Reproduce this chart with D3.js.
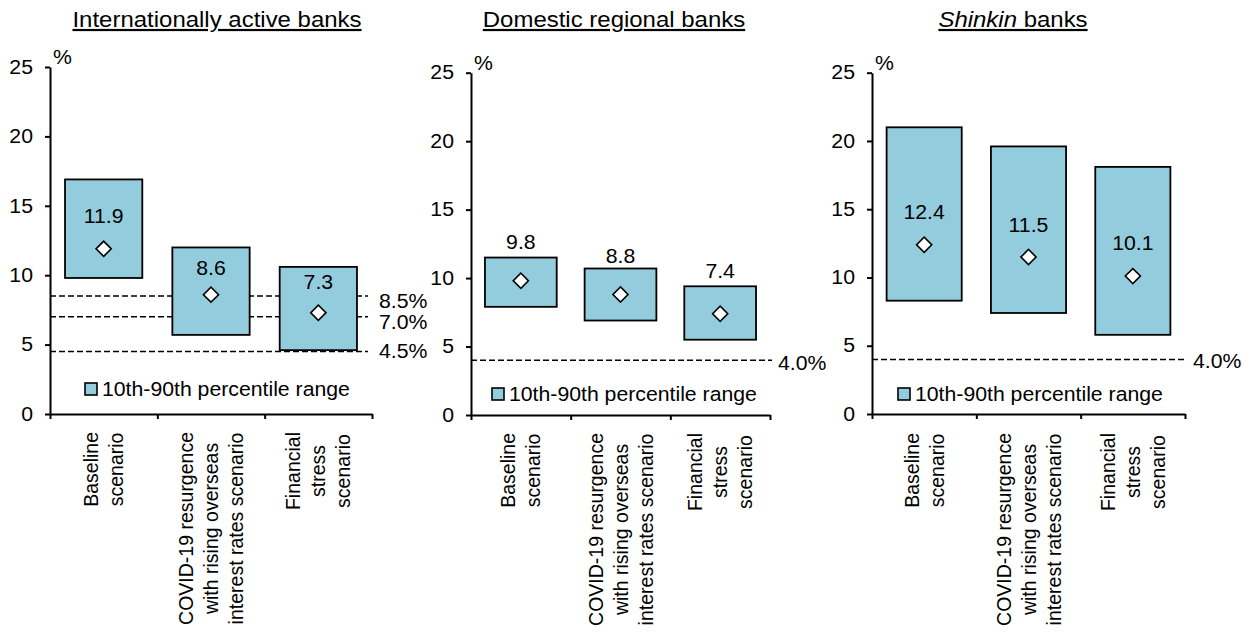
<!DOCTYPE html>
<html>
<head>
<meta charset="utf-8">
<script src="https://cdn.jsdelivr.net/npm/d3@7"></script>
<style>
  body { margin: 0; background: #fff; }
  text { font-family: "Liberation Sans", Arial, sans-serif; fill: #000; }
</style>
</head>
<body>
<div id="chart"></div>
<script>
// ---- data ----
const panelTitles = ["Internationally active banks", "Domestic regional banks", "Shinkin banks"];
const categories = [
    ["Baseline", "scenario"],
    ["COVID-19 resurgence", "with rising overseas", "interest rates scenario"],
    ["Financial", "stress", "scenario"]
];
const yTicks = [0, 5, 10, 15, 20, 25];
const legendLabel = "10th-90th percentile range";

const intlLow = [9.8, 5.7, 4.6];
const intlHigh = [16.9, 12.0, 10.6];
const intlMedian = [11.9, 8.6, 7.3];
const intlThresholds = [8.5, 7.0, 4.5];

const domLow = [7.9, 6.9, 5.5];
const domHigh = [11.5, 10.7, 9.4];
const domMedian = [9.8, 8.8, 7.4];
const domThresholds = [4.0];

const shinLow = [8.3, 7.4, 5.8];
const shinHigh = [21.0, 19.6, 18.1];
const shinMedian = [12.4, 11.5, 10.1];
const shinThresholds = [4.0];

// ---- layout (pixel positions per panel) ----
const W = 1253, H = 644;
const SX = 1.09;          // horizontal stretch of the original text
const FS = 19.5;          // base font size
const layout = [
    { x0: 50, x1: 372, yTop: 67, yBot: 414, titleX: 217, legX: 85, legY: 389,
      lblDy: [-33, -26, -31], thrDy: [5, 5, 0], thrEnd: 368, thrGap: 11, catTop: 432 },
    { x0: 471, x1: 770, yTop: 72.7, yBot: 415, titleX: 614, legX: 492, legY: 394,
      lblDy: [-39, -38, -43], thrDy: [3], thrEnd: 772, thrGap: 6, catTop: 433 },
    { x0: 872, x1: 1185, yTop: 72.7, yBot: 414, titleX: 1013, legX: 898, legY: 394,
      lblDy: [-33, -32, -33], thrDy: [2], thrEnd: 1187, thrGap: 6, catTop: 433 }
];

const panelData = [
    { low: intlLow, high: intlHigh, median: intlMedian, thresholds: intlThresholds },
    { low: domLow, high: domHigh, median: domMedian, thresholds: domThresholds },
    { low: shinLow, high: shinHigh, median: shinMedian, thresholds: shinThresholds }
];

const boxFill = "#93cddd";

const svg = d3.select("#chart").append("svg")
    .attr("width", W)
    .attr("height", H);

function stretch(x, y) {
    return "translate(" + x + "," + y + ") scale(" + SX + ",1)";
}

panelData.forEach((d, p) => {
    const L = layout[p];
    const g = svg.append("g");

    const y = d3.scaleLinear().domain([0, 25]).range([L.yBot, L.yTop]);
    const xb = d3.scaleBand().domain(d3.range(categories.length))
        .range([L.x0, L.x1]).paddingInner(0.28).paddingOuter(0.14);
    const xt = d3.scaleLinear().domain([0, categories.length]).range([L.x0, L.x1]);

    // TITLE
    const title = g.append("text")
        .attr("transform", stretch(L.titleX, 27))
        .attr("text-anchor", "middle")
        .style("font-size", "22px")
        .style("text-decoration", "underline");
    if (p === 2) {
        title.append("tspan").style("font-style", "italic").text("Shinkin");
        title.append("tspan").text(" banks");
    } else {
        title.text(panelTitles[p]);
    }

    // THRESHOLD LINES
    d.thresholds.forEach((t, i) => {
        g.append("line")
            .attr("x1", L.x0).attr("x2", L.thrEnd)
            .attr("y1", y(t)).attr("y2", y(t))
            .attr("stroke", "#000")
            .attr("stroke-width", 1.5)
            .attr("stroke-dasharray", "6,3");
        g.append("text")
            .attr("transform", stretch(L.thrEnd + L.thrGap, y(t) + L.thrDy[i]))
            .attr("dy", "0.35em")
            .style("font-size", FS + "px")
            .text(t.toFixed(1) + "%");
    });

    // BOXES
    g.selectAll(".box").data(d3.range(categories.length)).enter()
        .append("rect")
        .attr("class", "box")
        .attr("x", i => xb(i))
        .attr("width", xb.bandwidth())
        .attr("y", i => y(d.high[i]))
        .attr("height", i => y(d.low[i]) - y(d.high[i]))
        .attr("fill", boxFill)
        .attr("stroke", "#000")
        .attr("stroke-width", 1.8);

    // MEDIAN MARKERS
    g.selectAll(".mark").data(d3.range(categories.length)).enter()
        .append("path")
        .attr("class", "mark")
        .attr("d", d3.symbol(d3.symbolSquare, 115))
        .attr("transform", i => "translate(" + (xb(i) + xb.bandwidth() / 2) + "," + y(d.median[i]) + ") rotate(45)")
        .attr("fill", "#fff")
        .attr("stroke", "#000")
        .attr("stroke-width", 1.6);

    g.selectAll(".lbl").data(d3.range(categories.length)).enter()
        .append("text")
        .attr("class", "lbl")
        .attr("transform", i => stretch(xb(i) + xb.bandwidth() / 2, y(d.median[i]) + L.lblDy[i]))
        .attr("text-anchor", "middle")
        .attr("dy", "0.35em")
        .style("font-size", FS + "px")
        .text(i => d.median[i].toFixed(1));

    // AXES
    const yAxis = g.append("g")
        .attr("transform", "translate(" + L.x0 + ",0)")
        .call(d3.axisLeft(y).tickValues(yTicks).tickSize(5).tickSizeOuter(0));
    yAxis.attr("font-family", null).attr("font-size", null);
    yAxis.select(".domain").attr("stroke", "#000").attr("stroke-width", 2);
    yAxis.selectAll(".tick line").attr("stroke", "#000").attr("stroke-width", 2);
    yAxis.selectAll(".tick text")
        .attr("x", -17 / SX)
        .attr("transform", "scale(" + SX + ",1)")
        .attr("fill", "#000")
        .style("font-size", FS + "px");

    const xAxis = g.append("g")
        .attr("transform", "translate(0," + L.yBot + ")")
        .call(d3.axisBottom(xt).tickValues(d3.range(categories.length + 1)).tickFormat("").tickSize(5).tickSizeOuter(0));
    xAxis.select(".domain").attr("stroke", "#000").attr("stroke-width", 2);
    xAxis.selectAll(".tick line").attr("stroke", "#000").attr("stroke-width", 2);

    // unit label
    g.append("text")
        .attr("transform", stretch(L.x0 + 3, L.yTop - 10))
        .attr("dy", "0.35em")
        .style("font-size", FS + "px")
        .text("%");

    // CATEGORY LABELS (rotated, lines centred, block top at catTop)
    const LS = 25;
    categories.forEach((lines, c) => {
        const cx = (xt(c) + xt(c + 1)) / 2;
        const tmp = lines.map(s => g.append("text")
            .style("font-size", FS + "px")
            .attr("text-anchor", "middle")
            .text(s));
        const maxLen = d3.max(tmp, t => t.node().getComputedTextLength());
        tmp.forEach((t, i) => {
            const bx = cx + (i - (lines.length - 1) / 2) * LS + 7;
            t.attr("transform", "translate(" + bx + "," + (L.catTop + maxLen / 2) + ") rotate(-90)");
        });
    });

    // LEGEND
    g.append("rect")
        .attr("x", L.legX).attr("y", L.legY - 6)
        .attr("width", 12).attr("height", 12)
        .attr("fill", boxFill)
        .attr("stroke", "#000")
        .attr("stroke-width", 1.6);
    g.append("text")
        .attr("transform", stretch(L.legX + 17, L.legY))
        .attr("dy", "0.35em")
        .style("font-size", FS + "px")
        .text(legendLabel);
});
</script>
</body>
</html>
